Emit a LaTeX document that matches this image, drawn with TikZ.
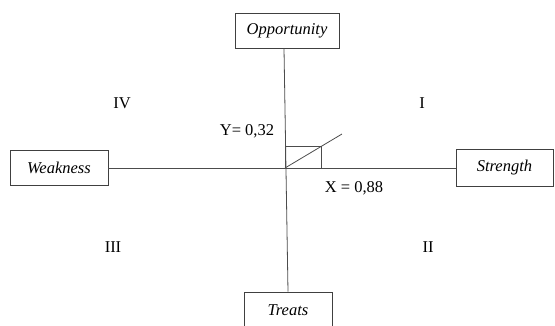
\documentclass[tikz,border=0pt]{standalone}
\usepackage{fontspec}
\setmainfont{Liberation Serif}
\begin{document}
\begin{tikzpicture}[x=1pt,y=-1pt,
  box/.style={draw=black!75,line width=0.8pt,inner sep=0pt,font=\itshape},
  ln/.style={draw=black!70,line width=0.8pt},
  lbl/.style={inner sep=0pt,anchor=center}]
\useasboundingbox (0,0) rectangle (555,325);
\clip (0,0) rectangle (555,325);
\fontsize{16.5}{20}\selectfont
\node[box,minimum width=104pt,minimum height=35pt] (opp) at (287,30.5) {Opportunity};
\node[box,minimum width=98pt,minimum height=35pt] (weak) at (59,168) {Weakness};
\node[box,minimum width=97pt,minimum height=37pt] (str) at (504.5,168) {Strength};
\node[box,minimum width=88pt,minimum height=36pt] (tre) at (288,310) {Treats};
\draw[ln] ([xshift=-3pt]opp.south) -- (tre.north);
\draw[ln] (weak.east) -- (str.west);
\coordinate (o) at (285,168);
\coordinate (r) at (321,146);
\coordinate (d) at (342,134);
\draw[ln] (o) rectangle (r);
\draw[ln] (o) -- (d);
\node[lbl] (ylab) at (247,131) {Y= 0,32};
\node[lbl] (xlab) at (354,188) {X = 0,88};
\node[lbl] (q4) at (122,103) {IV};
\node[lbl] (q1) at (422,103) {I};
\node[lbl] (q3) at (113,247) {III};
\node[lbl] (q2) at (428,247) {II};
\end{tikzpicture}
\end{document}
